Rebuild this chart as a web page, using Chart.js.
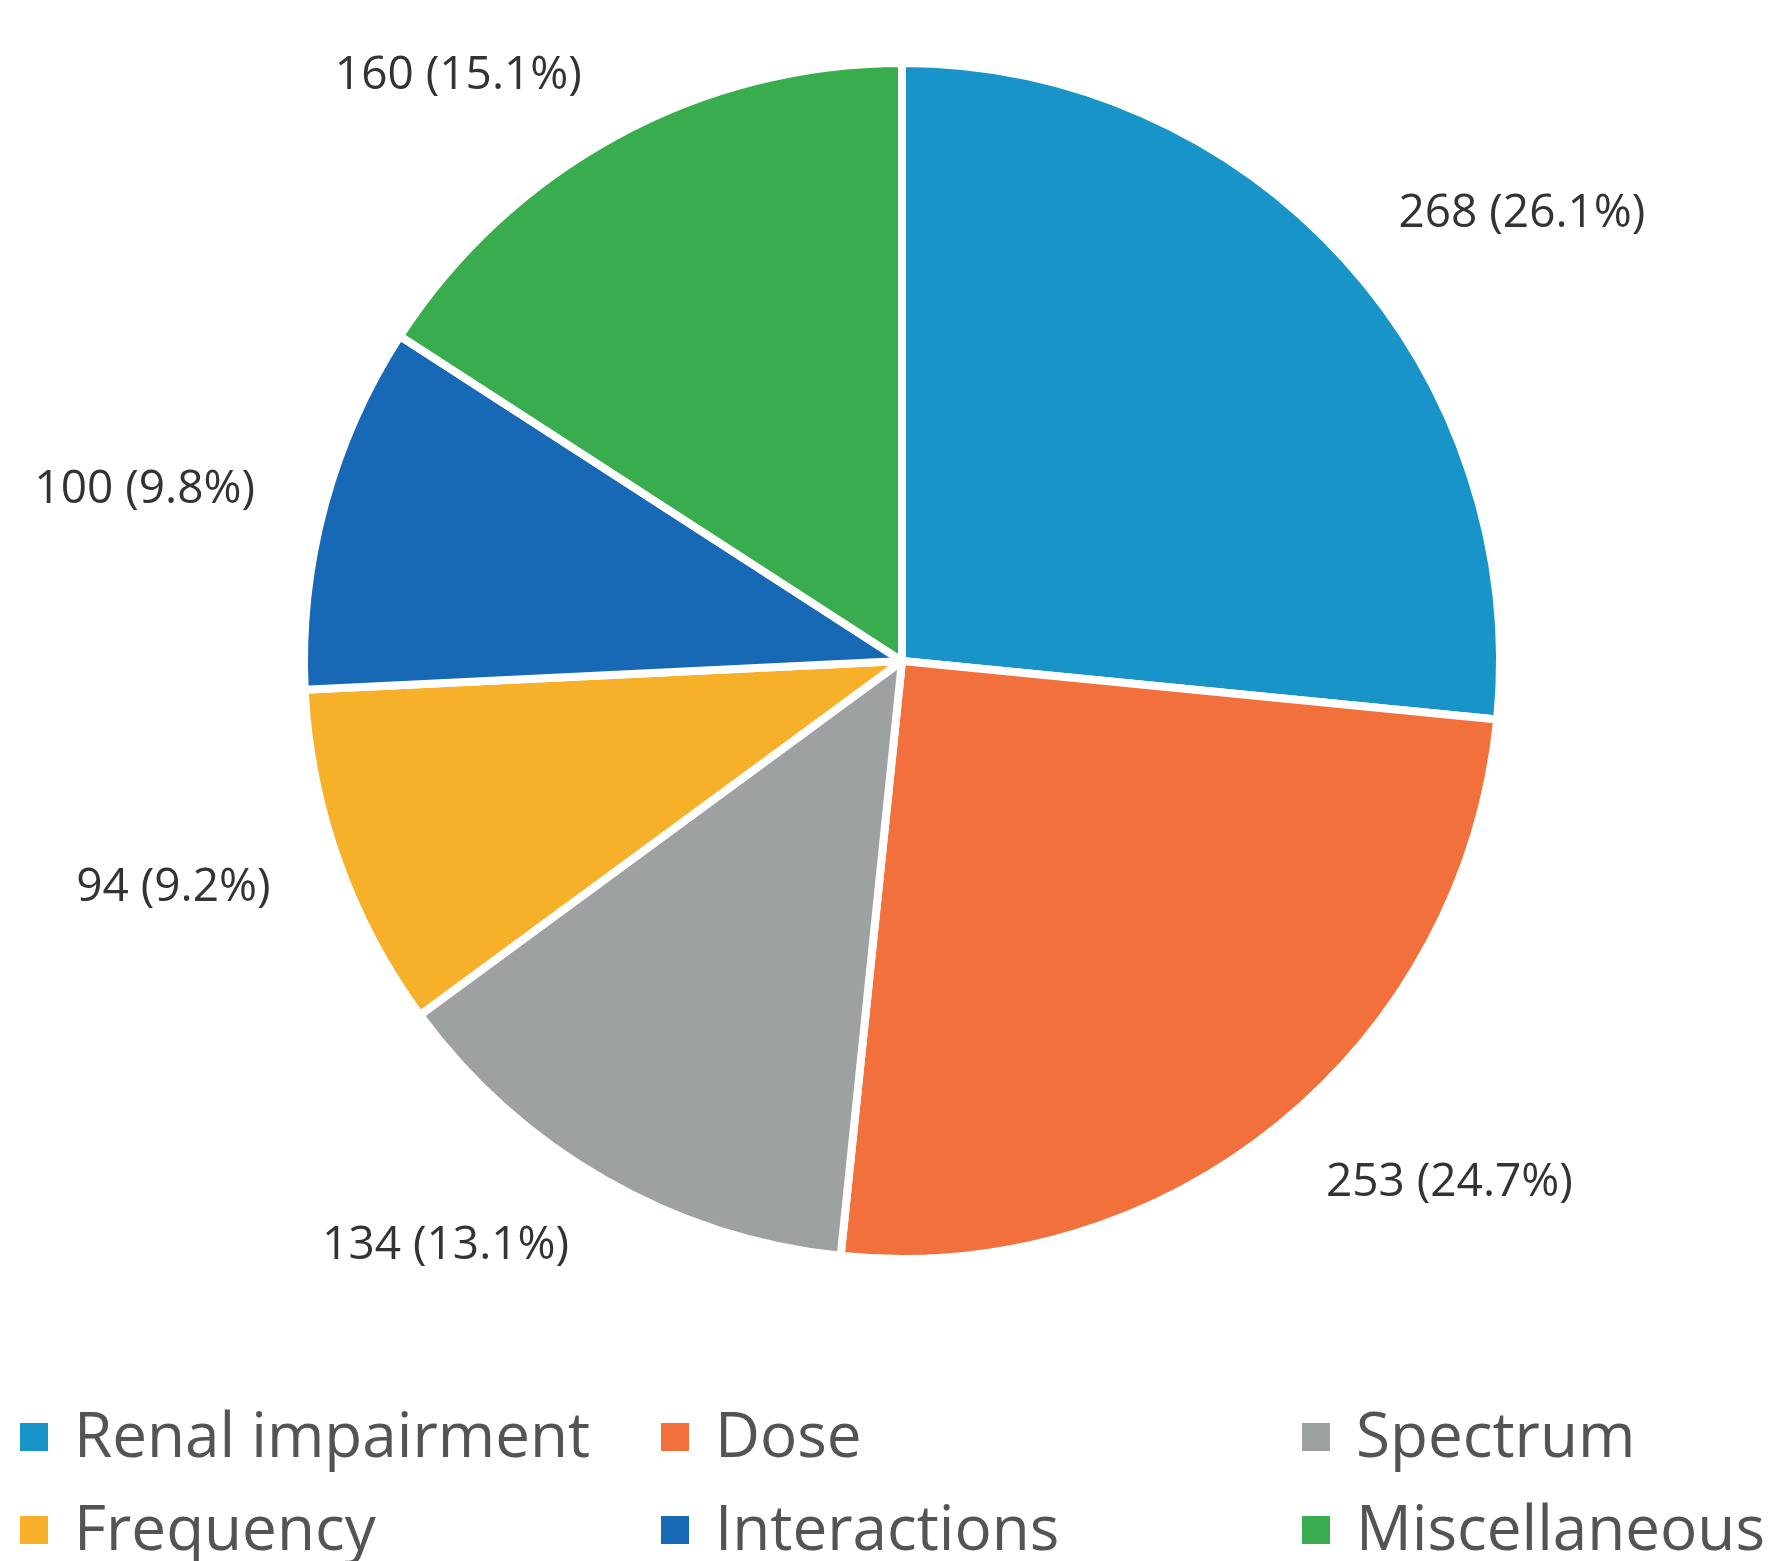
<!DOCTYPE html>
<html>
<head>
<meta charset="utf-8">
<script src="https://cdn.jsdelivr.net/npm/chart.js@4.4.1/dist/chart.umd.min.js"></script>
<style>
  html, body { margin: 0; padding: 0; background: #ffffff; }
  #wrap { width: 1774px; height: 1561px; position: relative; }
</style>
</head>
<body>
<div id="wrap"><canvas id="c"></canvas></div>
<script>
const categories = ['Renal impairment', 'Dose', 'Spectrum', 'Frequency', 'Interactions', 'Miscellaneous'];
const counts = [268, 253, 134, 94, 100, 160];
const percentLabels = ['26.1%', '24.7%', '13.1%', '9.2%', '9.8%', '15.1%'];
const colors = ['#1994c9', '#f2703b', '#9ea1a2', '#f7b02a', '#1769b5', '#39ad4e'];

const FONT = '"Open Sans", "Noto Sans", sans-serif';

const outsideLabels = {
  id: 'outsideLabels',
  afterDatasetsDraw(chart, args, opts) {
    const ctx = chart.ctx;
    const meta = chart.getDatasetMeta(0);
    ctx.save();
    ctx.font = opts.size + 'px ' + FONT;
    ctx.fillStyle = opts.color;
    ctx.textBaseline = 'alphabetic';
    meta.data.forEach((arc, i) => {
      const p = arc.getProps(['x', 'y', 'startAngle', 'endAngle', 'outerRadius'], true);
      const mid = (p.startAngle + p.endAngle) / 2;
      const text = counts[i] + ' (' + percentLabels[i] + ')';
      const d = p.outerRadius + opts.gap;
      const ax = p.x + Math.cos(mid) * d;
      const ay = p.y + Math.sin(mid) * d;
      ctx.textAlign = Math.cos(mid) >= 0 ? 'left' : 'right';
      ctx.fillText(text, ax, ay + opts.size * 0.357);
    });
    ctx.restore();
  }
};

const gridLegend = {
  id: 'gridLegend',
  afterDraw(chart, args, opts) {
    const ctx = chart.ctx;
    const labels = chart.data.labels;
    const bg = chart.data.datasets[0].backgroundColor;
    ctx.save();
    ctx.font = opts.size + 'px ' + FONT;
    ctx.textAlign = 'left';
    ctx.textBaseline = 'middle';
    labels.forEach((lab, i) => {
      const col = i % opts.cols, row = Math.floor(i / opts.cols);
      const x = opts.x0 + col * opts.colW;
      const y = opts.y0 + row * opts.rowH;
      ctx.fillStyle = bg[i];
      ctx.fillRect(x, y - opts.box / 2, opts.box, opts.box);
      ctx.fillStyle = opts.color;
      ctx.fillText(lab, x + opts.box + opts.textGap, y + 2);
    });
    ctx.restore();
  }
};

new Chart(document.getElementById('c'), {
  type: 'pie',
  data: {
    labels: categories,
    datasets: [{
      data: counts,
      backgroundColor: colors,
      borderColor: '#ffffff',
      borderWidth: 8,
      hoverOffset: 0
    }]
  },
  options: {
    responsive: true,
    maintainAspectRatio: false,
    animation: false,
    layout: { padding: { left: 300, right: 270, top: 59, bottom: 298 } },
    plugins: {
      legend: { display: false },
      tooltip: { enabled: false },
      outsideLabels: { size: 46, gap: 72, color: '#333333' },
      gridLegend: { cols: 3, x0: 20, colW: 641, y0: 1437, rowH: 93, box: 28, textGap: 26, size: 62, color: '#545454' }
    }
  },
  plugins: [outsideLabels, gridLegend]
});
</script>
</body>
</html>
